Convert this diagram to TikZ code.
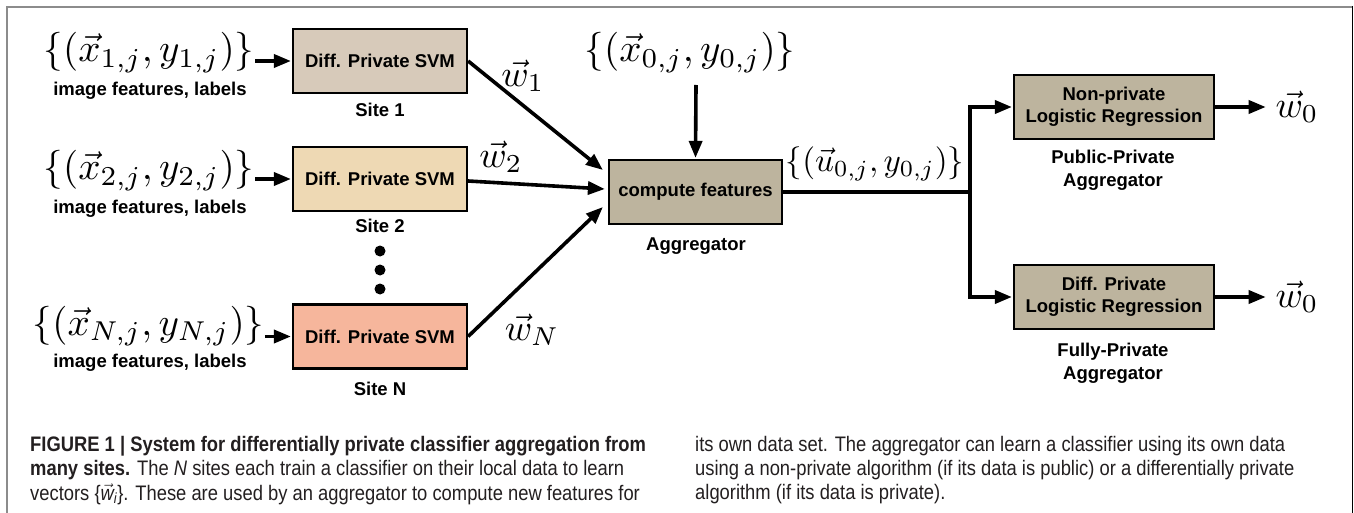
\documentclass[tikz,border=0pt]{standalone}
\usepackage{amsmath}
\usepackage[no-math]{fontspec}
\newfontfamily\hv{Liberation Sans}
\newfontfamily\hvc[FakeStretch=0.875]{Liberation Sans}
\usetikzlibrary{arrows.meta,calc}
\definecolor{siteA}{HTML}{D7CABA}
\definecolor{siteB}{HTML}{EED9B4}
\definecolor{siteC}{HTML}{F6B69C}
\definecolor{aggc}{HTML}{BDB49E}
\definecolor{frameg}{HTML}{8C8C8C}
\definecolor{captc}{HTML}{231F20}
\begin{document}
\begin{tikzpicture}[x=1pt,y=-1pt,
  box/.style={draw=black,line width=2.2pt,minimum width=174pt,minimum height=64pt,inner sep=0pt,
    font=\hv\bfseries\fontsize{18.5}{21.5}\selectfont,align=center},
  lbl/.style={font=\hv\bfseries\fontsize{18.5}{22.5}\selectfont,align=center,inner sep=0pt},
  mth/.style={inner sep=0pt},
  arr/.style={line width=3.6pt,-{Triangle[length=17pt,width=13pt]}},
  ln/.style={line width=3.6pt},
  captxt/.style={font=\hvc\fontsize{21}{25}\selectfont,anchor=west,inner sep=0pt,text=captc},
  blackdot/.style={fill=black}
]
\useasboundingbox (0,0) rectangle (1354,513);
\fill[white] (0,0) rectangle (1354,513);
% frame
\draw[frameg,line width=2pt] (7,513) -- (7,7) -- (1352.5,7);
\draw[black,line width=1.5pt] (1352.5,6) -- (1352.5,513);

% boxes
\node[box,fill=siteA] (s1) at (380,61) {Diff. Private SVM};
\node[box,fill=siteB] (s2) at (380,179) {Diff. Private SVM};
\node[box,fill=siteC] (sN) at (380,336.5) {Diff. Private SVM};
\node[box,fill=aggc,minimum width=173pt] (agg) at (695.5,192) {compute features};
\node[box,fill=aggc,minimum width=200pt] (pub) at (1114,107) {Non-private\\Logistic Regression};
\node[box,fill=aggc,minimum width=200pt] (prv) at (1114,297) {Diff. Private\\Logistic Regression};

% labels
\node[lbl] (l1) at (380,110) {Site 1};
\node[lbl] (l2) at (380,226) {Site 2};
\node[lbl] (lN) at (380,389) {Site N};
\node[lbl] (lagg) at (696,246) {Aggregator};
\node[lbl] (lpub) at (1113,170.5) {Public-Private\\Aggregator};
\node[lbl] (lprv) at (1113,363.5) {Fully-Private\\Aggregator};
\node[lbl] (f1) at (150,91) {image features, labels};
\node[lbl] (f2) at (150,209) {image features, labels};
\node[lbl] (fN) at (150,363) {image features, labels};

% math
\node[mth,scale=3.9] (in1) at (149,52.5) {$\{(\vec{x}_{1,j},y_{1,j})\}$};
\node[mth,scale=3.9] (in2) at (149,170.5) {$\{(\vec{x}_{2,j},y_{2,j})\}$};
\node[mth,scale=3.9] (inN) at (148.5,326) {$\{(\vec{x}_{N,j},y_{N,j})\}$};
\node[mth,scale=3.9] (in0) at (690,52.5) {$\{(\vec{x}_{0,j},y_{0,j})\}$};
\node[mth,scale=3.3] (uo) at (875,163.5) {$\{(\vec{u}_{0,j},y_{0,j})\}$};
\node[mth,scale=3.7] (w1) at (523,76) {$\vec{w}_1$};
\node[mth,scale=3.7] (w2) at (501,157) {$\vec{w}_2$};
\node[mth,scale=3.7] (wN) at (532,330) {$\vec{w}_N$};
\node[mth,scale=3.7] (o1) at (1297,107) {$\vec{w}_0$};
\node[mth,scale=3.7] (o2) at (1297,297) {$\vec{w}_0$};

% dots
\fill[blackdot] (380,251) circle[radius=5.5pt];
\fill[blackdot] (380,270) circle[radius=5.5pt];
\fill[blackdot] (380,289) circle[radius=5.5pt];

% arrows
\draw[arr,shorten >=1pt] (in1.east |- s1.west) -- (s1.west);
\draw[arr,shorten >=1pt] (in2.east |- s2.west) -- (s2.west);
\draw[arr,shorten >=1pt] (inN.east |- sN.west) -- (sN.west);
\draw[arr] (s1.east) -- ($(agg.west)+(-5,-22)$);
\draw[arr] ([yshift=-2pt]s2.east) -- ($(agg.west)+(-3,-3)$);
\draw[arr] (sN.east) -- ($(agg.west)+(-5,15)$);
\coordinate (x0a) at (696,85);
\draw[arr,shorten >=1pt] (x0a) -- (agg.north);
\coordinate (br) at (970,192);
\draw[ln] (agg.east) -- (br);
\draw[arr,shorten >=1pt] (br) |- (pub.west);
\draw[arr,shorten >=1pt] (br) |- (prv.west);
\draw[arr,shorten >=9pt] (pub.east) -- (o1.west);
\draw[arr,shorten >=9pt] (prv.east) -- (o2.west);

% caption
\node[captxt] (c1) at (30,446) {\bfseries FIGURE 1 | System for differentially private classifier aggregation from};
\node[captxt] (c2) at (30,470) {\textbf{many sites.} The \textit{N} sites each train a classifier on their local data to learn};
\node[captxt] (c3) at (30,494) {vectors \{$\vec{\text{\itshape w}}_{\text{\itshape i}}$\}. These are used by an aggregator to compute new features for};
\node[captxt] (c4) at (695,446) {its own data set. The aggregator can learn a classifier using its own data};
\node[captxt] (c5) at (695,470) {using a non-private algorithm (if its data is public) or a differentially private};
\node[captxt] (c6) at (695,494) {algorithm (if its data is private).};
\end{tikzpicture}
\end{document}
